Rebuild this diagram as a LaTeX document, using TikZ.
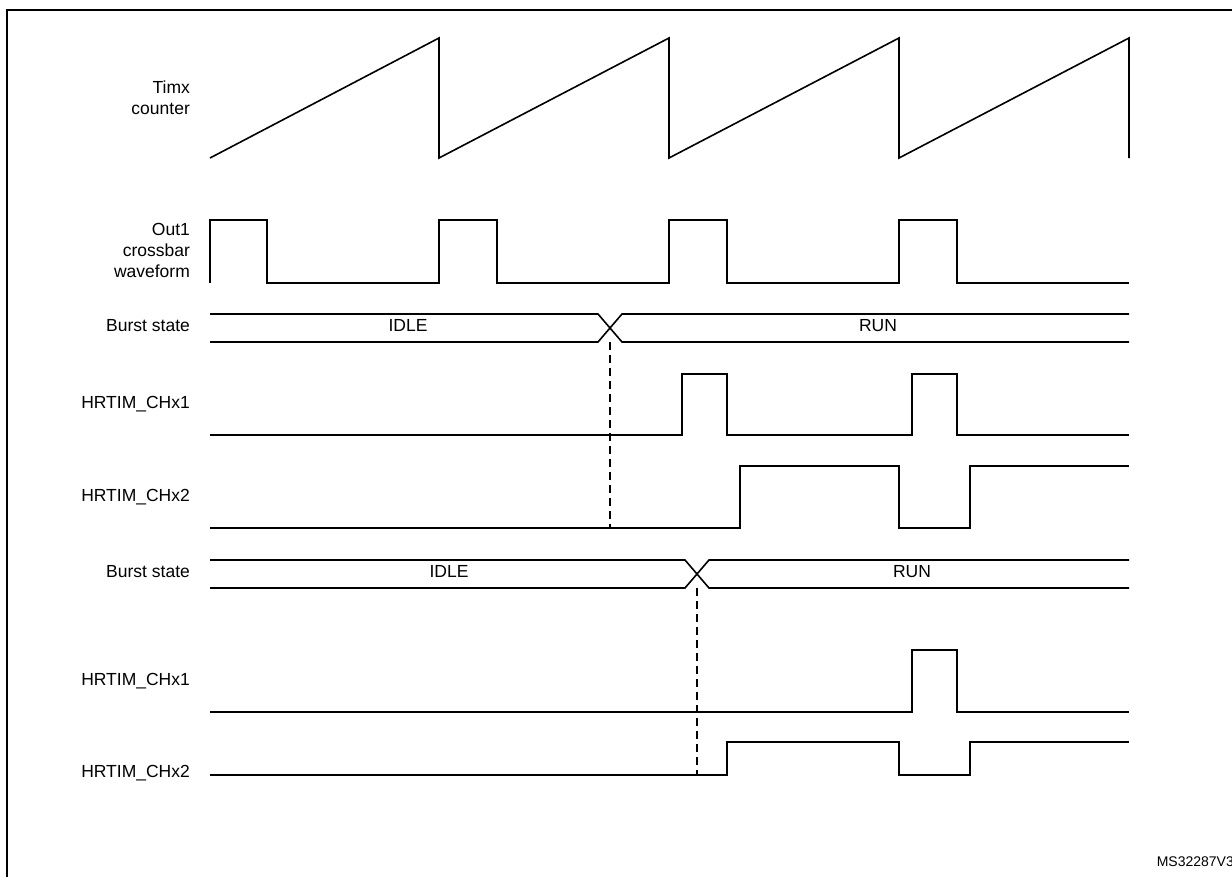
\documentclass[tikz,border=0pt]{standalone}
\usepackage{fontspec}
\setmainfont{Liberation Sans}
\begin{document}
\begin{tikzpicture}[x=1pt,y=-1pt,line width=1.6pt,
  sig/.style={line join=miter},
  lbl/.style={anchor=east,align=right,font=\fontsize{17.5}{21}\selectfont},
  state/.style={font=\fontsize{17.5}{21}\selectfont,text height=1.5ex,text depth=.25ex},
  guide/.style={dashed,line width=1.1pt,dash pattern=on 8pt off 5pt}]

\useasboundingbox (0,0) rectangle (1232,876);
\clip (0,0) rectangle (1232,876);

% frame
\draw (7,880) -- (7,10) -- (1240,10);

% labels
\node[lbl] (cnt) at (194,98) {Timx\\counter};
\node[lbl] (out) at (194,250) {Out1\\crossbar\\waveform};
\node[lbl,state] (bsa) at (194,328) {Burst state};
\node[lbl] (c1a) at (194,404) {HRTIM\_CHx1};
\node[lbl] (c2a) at (194,497) {HRTIM\_CHx2};
\node[lbl,state] (bsb) at (194,574) {Burst state};
\node[lbl] (c1b) at (194,681) {HRTIM\_CHx1};
\node[lbl] (c2b) at (194,773) {HRTIM\_CHx2};

% counter
\draw[sig] (210,158) -- (439,38) -- (439,158) -- (669,38) -- (669,158)
  -- (899,38) -- (899,158) -- (1129,38) -- (1129,158);

% crossbar waveform
\draw[sig] (210,283) -- (210,220) -- (267,220) -- (267,283) -- (439,283)
  -- (439,220) -- (497,220) -- (497,283) -- (669,283) -- (669,220)
  -- (727,220) -- (727,283) -- (899,283) -- (899,220) -- (957,220)
  -- (957,283) -- (1129,283);

% burst state, first case
\draw (210,314) -- (598,314) -- (622,342) -- (1129,342);
\draw (210,342) -- (598,342) -- (622,314) -- (1129,314);
\node[state] (idlea) at (408,328) {IDLE};
\node[state] (runa) at (878,328) {RUN};
\draw[guide] (610,342) -- (610,528);

\draw[sig] (210,435) -- (682,435) -- (682,374) -- (727,374) -- (727,435)
  -- (912,435) -- (912,374) -- (957,374) -- (957,435) -- (1129,435);
\draw[sig] (210,528) -- (740,528) -- (740,466) -- (899,466) -- (899,528)
  -- (970,528) -- (970,466) -- (1129,466);

% burst state, second case
\draw (210,560) -- (685,560) -- (709,588) -- (1129,588);
\draw (210,588) -- (685,588) -- (709,560) -- (1129,560);
\node[state] (idleb) at (449,574) {IDLE};
\node[state] (runb) at (912,574) {RUN};
\draw[guide] (697,588) -- (697,775);

\draw[sig] (210,712) -- (912,712) -- (912,650) -- (957,650) -- (957,712)
  -- (1129,712);
\draw[sig] (210,775) -- (727,775) -- (727,742) -- (899,742) -- (899,775)
  -- (970,775) -- (970,742) -- (1129,742);

\node[anchor=east,font=\fontsize{14}{16}\selectfont] (ref) at (1238,862) {MS32287V3};
\end{tikzpicture}
\end{document}
